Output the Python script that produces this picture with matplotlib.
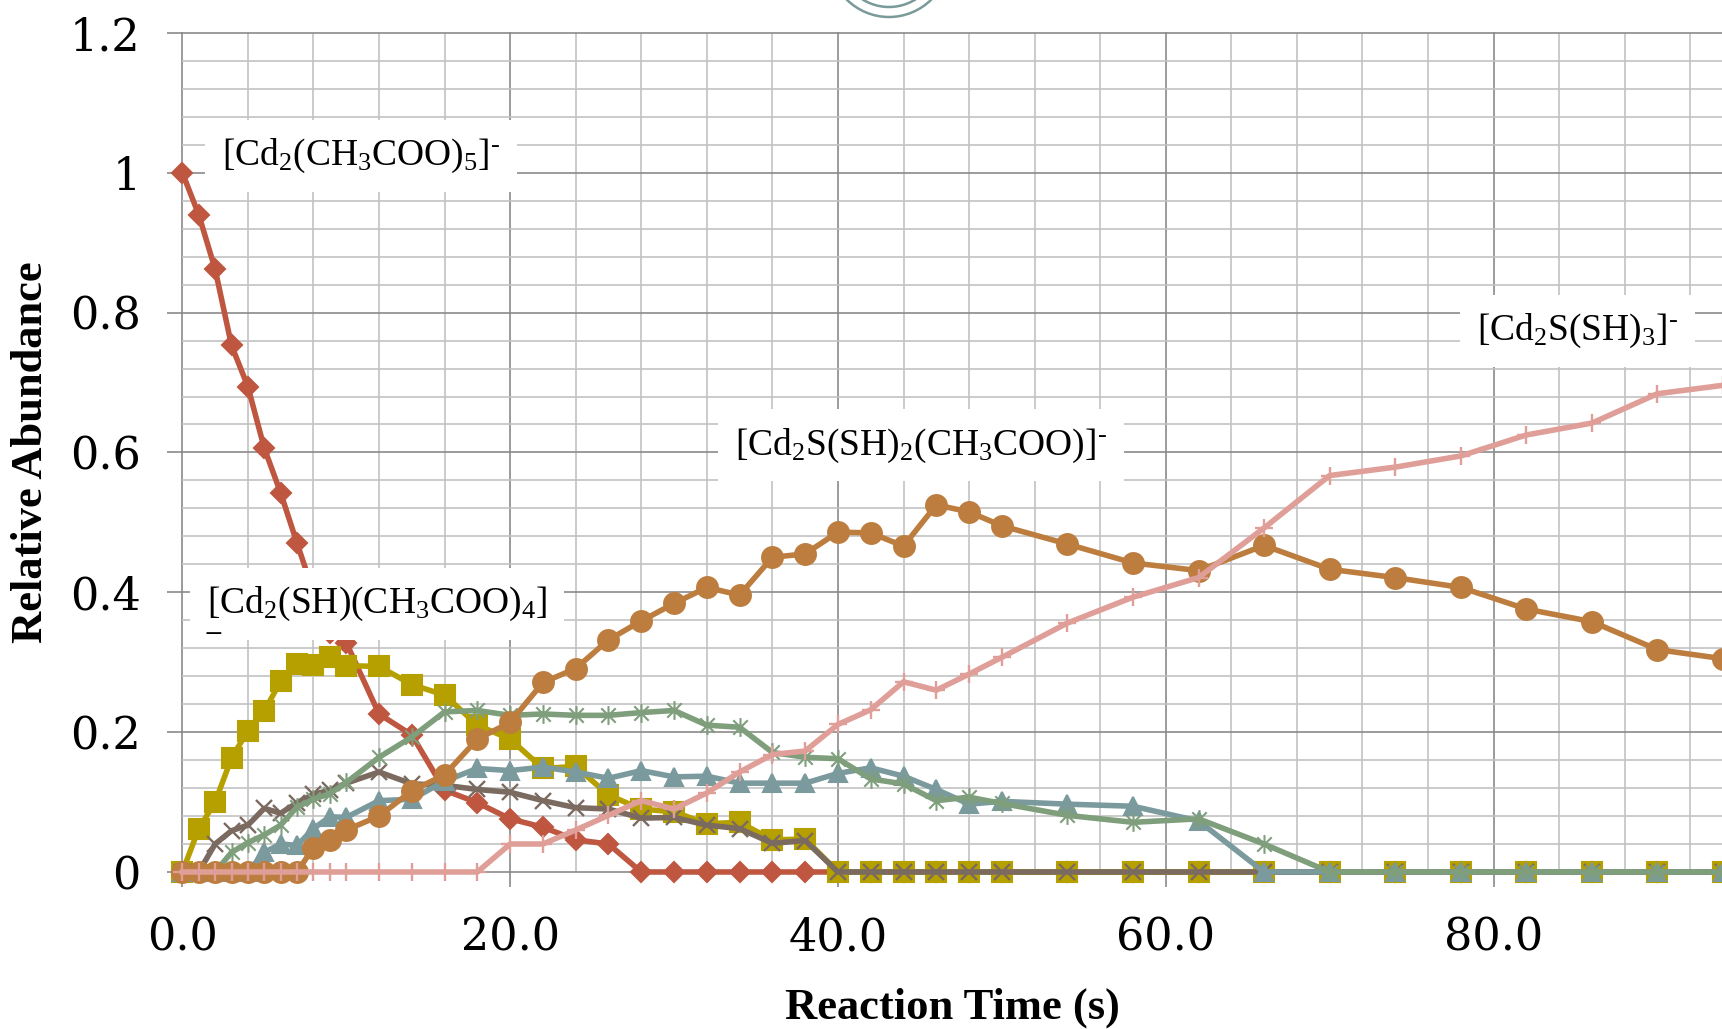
import matplotlib.pyplot as plt
from matplotlib.path import Path
from matplotlib.patches import Circle
from matplotlib.ticker import MultipleLocator, FuncFormatter

plt.rcParams['font.family'] = ['DejaVu Serif']
plt.rcParams['mathtext.fontset'] = 'custom'
plt.rcParams['mathtext.rm'] = 'Liberation Serif'
plt.rcParams['mathtext.it'] = 'Liberation Serif:italic'
plt.rcParams['mathtext.bf'] = 'Liberation Serif:bold'
plt.rcParams['mathtext.fallback'] = 'stix'

# reaction time (s)
time_s = [0, 1, 2, 3, 4, 5, 6, 7, 8, 9, 10,
          12, 14, 16, 18, 20, 22, 24, 26, 28, 30, 32, 34, 36, 38, 40, 42, 44, 46, 48, 50,
          54, 58, 62, 66, 70, 74, 78, 82, 86, 90, 94]

# relative abundance of each species
cd2_ac5 = [1.0, 0.94, 0.862, 0.753, 0.694, 0.606, 0.542, 0.47, 0.40, 0.342, 0.328,
           0.226, 0.196, 0.117, 0.099, 0.076, 0.064, 0.046, 0.04, 0, 0, 0, 0, 0, 0, 0, 0, 0, 0, 0, 0,
           0, 0, 0, 0, 0, 0, 0, 0, 0, 0, 0]
cd2_sh_ac4 = [0, 0.062, 0.10, 0.163, 0.202, 0.23, 0.273, 0.298, 0.296, 0.308, 0.295,
              0.294, 0.268, 0.253, 0.21, 0.19, 0.148, 0.151, 0.11, 0.09, 0.086, 0.069, 0.071, 0.046, 0.047,
              0, 0, 0, 0, 0, 0,
              0, 0, 0, 0, 0, 0, 0, 0, 0, 0, 0]
brown_x = [0, 0, 0.04, 0.059, 0.067, 0.091, 0.084, 0.099, 0.111, 0.117, 0.127,
           0.143, 0.126, 0.124, 0.118, 0.114, 0.102, 0.092, 0.09, 0.077, 0.078, 0.067, 0.062, 0.041, 0.045,
           0, 0, 0, 0, 0, 0,
           0, 0, 0, 0, 0, 0, 0, 0, 0, 0, 0]
teal_tri = [0, 0, 0, 0, 0, 0.028, 0.04, 0.038, 0.062, 0.079, 0.078,
            0.102, 0.104, 0.13, 0.148, 0.145, 0.15, 0.143, 0.134, 0.145, 0.136, 0.137, 0.127, 0.127, 0.127,
            0.141, 0.149, 0.137, 0.118, 0.097, 0.101,
            0.097, 0.094, 0.073, 0, 0, 0, 0, 0, 0, 0, 0]
green_star = [0, 0, 0, 0.028, 0.042, 0.053, 0.067, 0.093, 0.104, 0.112, 0.128,
              0.164, 0.193, 0.229, 0.231, 0.224, 0.226, 0.224, 0.224, 0.228, 0.231, 0.21, 0.207, 0.171, 0.164,
              0.162, 0.133, 0.126, 0.102, 0.107, 0.098,
              0.081, 0.071, 0.076, 0.04, 0, 0, 0, 0, 0, 0, 0]
cd2s_sh2_ac = [0, 0, 0, 0, 0, 0, 0, 0, 0.035, 0.046, 0.06,
               0.08, 0.116, 0.139, 0.19, 0.214, 0.271, 0.291, 0.332, 0.359, 0.384, 0.407, 0.396, 0.45, 0.455,
               0.486, 0.485, 0.466, 0.525, 0.515, 0.495,
               0.469, 0.442, 0.431, 0.467, 0.433, 0.421, 0.407, 0.376, 0.358, 0.318, 0.305]
cd2s_sh3 = [0, 0, 0, 0, 0, 0, 0, 0, 0, 0, 0,
            0, 0, 0, 0, 0.04, 0.04, 0.06, 0.081, 0.102, 0.09, 0.113, 0.143, 0.168, 0.173,
            0.211, 0.232, 0.272, 0.26, 0.283, 0.307,
            0.356, 0.393, 0.421, 0.492, 0.567, 0.579, 0.595, 0.625, 0.642, 0.684, 0.696]

star = Path([(-1, -1), (1, 1), (-1, 1), (1, -1), (0, -1.3), (0, 1.3)],
            [Path.MOVETO, Path.LINETO] * 3)

fig = plt.figure(figsize=(17.22, 10.29), dpi=100)
ax = fig.add_axes([0.1059, 0.1526, 0.8941, 0.8154])

series = [
    (cd2_ac5, '#BE5640', 'D', 10.5, 1.5),
    (cd2_sh_ac4, '#B5A000', 's', 14, 1.5),
    (brown_x, '#7B6A60', 'x', 12, 1.7),
    (teal_tri, '#7A9A9E', '^', 13, 1.5),
    (green_star, '#7E9E7C', star, 13.5, 1.5),
    (cd2s_sh2_ac, '#BC7D3E', 'o', 15, 1.5),
    (cd2s_sh3, '#E09E98', '+', 12.5, 1.7),
]
for i, (vals, col, mk, ms, mew) in enumerate(series):
    ax.plot(time_s, vals, color=col, lw=4, marker=mk, ms=ms, mew=mew,
            mec=col, mfc=col, clip_on=False, zorder=3 + i)

ax.set_xlim(0, 93.94)
ax.set_ylim(0, 1.2)
ax.xaxis.set_major_locator(MultipleLocator(20))
ax.xaxis.set_minor_locator(MultipleLocator(4))
ax.yaxis.set_major_locator(MultipleLocator(0.2))
ax.yaxis.set_minor_locator(MultipleLocator(0.04))
ax.xaxis.set_major_formatter(FuncFormatter(lambda v, p: f'{v:.1f}'))
ax.yaxis.set_major_formatter(FuncFormatter(lambda v, p: f'{v:g}'))

ax.grid(which='major', color='#8a8a8a', lw=1.2)
ax.grid(which='minor', color='#c2c2c2', lw=1.2)
ax.set_axisbelow(True)
for s in ax.spines.values():
    s.set_visible(False)
for gl in ax.get_xgridlines() + ax.get_ygridlines():
    gl.set_clip_on(False)

ax.tick_params(which='major', direction='out', length=11, width=1.2,
               color='#8a8a8a', labelsize=32)
ax.tick_params(which='minor', length=0)
ax.tick_params(axis='y', pad=19)
ax.tick_params(axis='x', pad=21)

ax.set_xlabel('Reaction Time (s)', fontsize=32, fontweight='bold', family='Liberation Serif')
ax.xaxis.set_label_coords(0.5, -0.1621)
ax.xaxis.label.set_va('center')
ax.set_ylabel('Relative Abundance', fontsize=32, fontweight='bold', family='Liberation Serif')
ax.yaxis.set_label_coords(-0.0983, 0.5)
ax.yaxis.label.set_va('center')

lab_font = ['Liberation Serif', 'DejaVu Serif']
box = dict(boxstyle='square,pad=0.45', fc='white', ec='none')
ax.text(2.42, 1.024, '[Cd$_2$(CH$_3$COO)$_5$]$^{\u2010}$', fontsize=27, family=lab_font,
        ha='left', va='center', bbox=box, zorder=20)
ax.text(33.7, 0.61, '[Cd$_2$S(SH)$_2$(CH$_3$COO)]$^{\u2010}$', fontsize=27, family=lab_font,
        ha='left', va='center', bbox=box, zorder=20)
ax.text(1.49, 0.383, '[Cd$_2$(SH)(CH$_3$COO)$_4$]', fontsize=27, family=lab_font,
        ha='left', va='center', bbox=box, zorder=20)
ax.text(1.3, 0.328, '\u207b', fontsize=27, family=lab_font,
        ha='left', va='center', zorder=21)
ax.text(79.0, 0.774, '[Cd$_2$S(SH)$_3$]$^{\u2010}$', fontsize=27, family=lab_font,
        ha='left', va='center', bbox=box, zorder=20)

# partial ring at the top edge
for r in (0.60, 0.50):
    fig.add_artist(Circle((8.89, 10.72), r, transform=fig.dpi_scale_trans,
                          fill=False, ec='#7A9A9A', lw=1.8))

fig.savefig('out.png', dpi=100, facecolor='white')
